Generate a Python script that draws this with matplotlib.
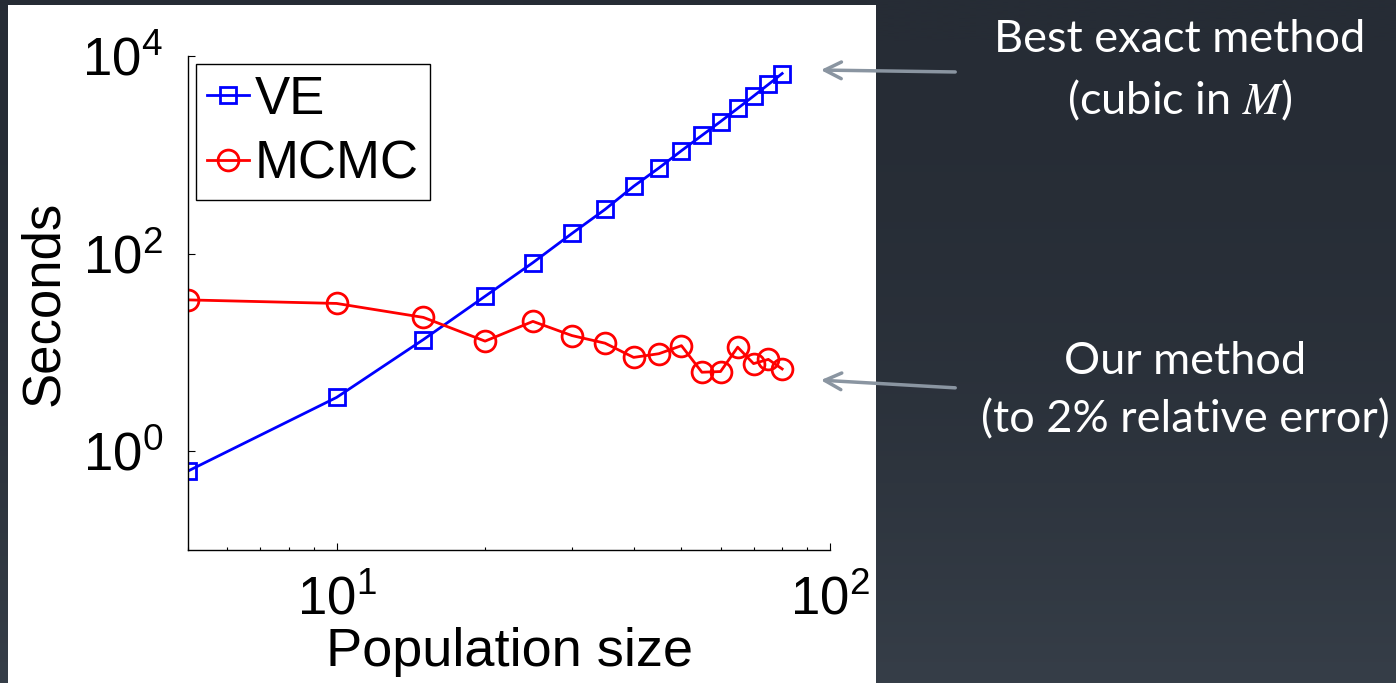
import numpy as np
import matplotlib
matplotlib.use("Agg")
import matplotlib.pyplot as plt
from matplotlib.colors import LinearSegmentedColormap
from matplotlib.patches import Rectangle, FancyArrowPatch
from matplotlib.ticker import LogLocator, NullLocator, NullFormatter

# data
pop_size = [5, 10, 15, 20, 25, 30, 35, 40, 45, 50, 55, 60, 65, 70, 75, 80]
ve_sec = [0.63, 3.5, 13.5, 37, 81, 160, 280, 480, 735, 1100, 1570, 2170, 2950, 3930, 5150, 6650]
mcmc_sec = [34, 31.3, 22.6, 13.0, 20.6, 14.8, 12.4, 8.9, 9.7, 11.7, 6.3, 6.4, 11.3, 7.7, 8.5, 6.8]

plt.rcParams['font.family'] = ['Liberation Sans', 'DejaVu Sans']
plt.rcParams['mathtext.fontset'] = 'stix'

W, H = 1396, 683
fig = plt.figure(figsize=(W / 100, H / 100), dpi=100)

# dark slide background with a soft vertical gradient + white panel
bg = fig.add_axes([0, 0, 1, 1])
grad = np.linspace(0, 1, 256).reshape(-1, 1) ** 2
cmap = LinearSegmentedColormap.from_list('slide', ['#262c35', '#363e48'])
bg.imshow(grad, aspect='auto', cmap=cmap, extent=[0, 1, 0, 1], origin='upper')
bg.add_patch(Rectangle((8 / W, 0), (876 - 8) / W, 1 - 5 / H, facecolor='white', edgecolor='none'))
bg.set_xlim(0, 1)
bg.set_ylim(0, 1)
bg.axis('off')

ax = fig.add_axes([188 / W, 1 - 550 / H, (830 - 188) / W, (550 - 56) / H])
ax.set_facecolor('none')
ax.plot(pop_size, ve_sec, color='blue', lw=2, marker='s', ms=12, mew=2, mfc='none', label='VE')
ax.plot(pop_size, mcmc_sec, color='red', lw=2, marker='o', ms=15, mew=2, mfc='none', label='MCMC')

ax.set_xscale('log')
ax.set_yscale('log')
ax.set_xlim(5, 100)
ax.set_ylim(0.1, 1e4)
ax.yaxis.set_major_locator(LogLocator(base=100))
ax.yaxis.set_minor_locator(NullLocator())
ax.xaxis.set_major_locator(LogLocator(base=10))
ax.xaxis.set_minor_locator(LogLocator(base=10, subs=np.arange(2, 10)))
ax.xaxis.set_minor_formatter(NullFormatter())

for s in ['top', 'right']:
    ax.spines[s].set_visible(False)
for s in ['left', 'bottom']:
    ax.spines[s].set_linewidth(1)
ax.tick_params(which='both', direction='in', labelsize=38, width=0.8, pad=18)
ax.tick_params(which='major', length=5)
ax.tick_params(which='minor', length=2.5)

ax.set_xlabel('Population size', fontsize=39, va='top')
ax.xaxis.set_label_coords(0.5, -0.155)
ax.set_ylabel('Seconds', fontsize=38)
ax.yaxis.set_label_coords(-0.185, 0.5)

leg = ax.legend(loc='upper left', bbox_to_anchor=(196 / W, 1 - 64 / H), bbox_transform=fig.transFigure,
                borderaxespad=0, fontsize=38, fancybox=False, framealpha=1, edgecolor='black',
                handlelength=0.8, handletextpad=0.12, labelspacing=0.28, borderpad=0.2)
leg.get_frame().set_linewidth(1)

# annotations on the dark side
txt = dict(color='white', fontsize=32.5, ha='center', va='center', family=['Lato', 'DejaVu Sans'])
fig.text(1180 / W, 1 - 40 / H, 'Best exact method', **txt)
fig.text(1180 / W, 1 - 100 / H, '(cubic in $M$)', **txt)
fig.text(1185 / W, 1 - 362 / H, 'Our method', **txt)
fig.text(1185 / W, 1 - 420 / H, '(to 2% relative error)', **txt)

arrow = dict(arrowstyle='->', color='#8a95a1', lw=2.5, mutation_scale=30)
fig.add_artist(FancyArrowPatch((958 / W, 1 - 72 / H), (818 / W, 1 - 70 / H),
                               transform=fig.transFigure, **arrow))
fig.add_artist(FancyArrowPatch((958 / W, 1 - 388 / H), (818 / W, 1 - 380 / H),
                               transform=fig.transFigure, **arrow))

fig.savefig('out.png', dpi=100)
